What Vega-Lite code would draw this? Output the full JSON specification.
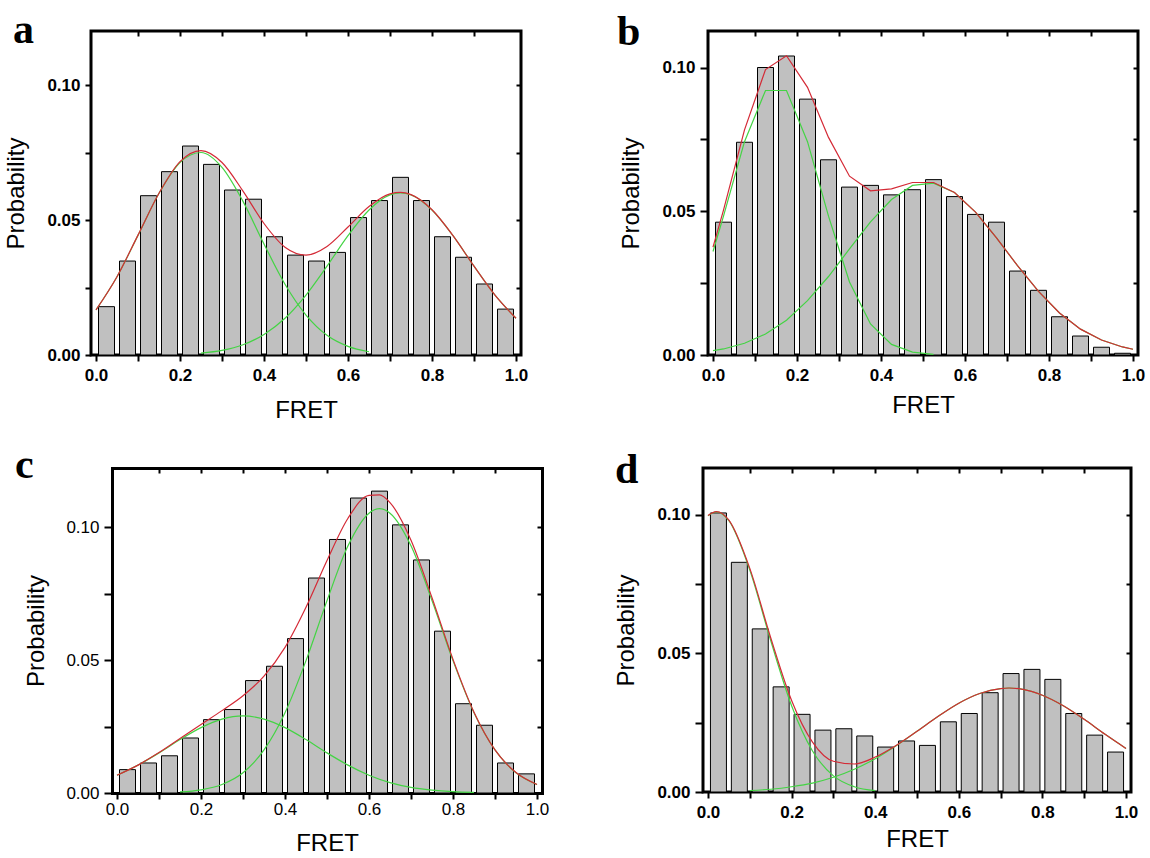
{
  "$schema": "https://vega.github.io/schema/vega-lite/v6.json",
  "background": "white",
  "padding": {"left": 3, "top": 7, "right": 0, "bottom": 0},
  "datasets": {
    "hist": [
      {"panel":"a","x":0.025,"p":0.0179},{"panel":"a","x":0.075,"p":0.0348},{"panel":"a","x":0.125,"p":0.059},{"panel":"a","x":0.175,"p":0.0679},{"panel":"a","x":0.225,"p":0.0774},
      {"panel":"a","x":0.275,"p":0.0706},{"panel":"a","x":0.325,"p":0.0611},{"panel":"a","x":0.375,"p":0.0577},{"panel":"a","x":0.425,"p":0.0438},{"panel":"a","x":0.475,"p":0.037},
      {"panel":"a","x":0.525,"p":0.0348},{"panel":"a","x":0.575,"p":0.038},{"panel":"a","x":0.625,"p":0.0509},{"panel":"a","x":0.675,"p":0.0572},{"panel":"a","x":0.725,"p":0.0658},
      {"panel":"a","x":0.775,"p":0.0572},{"panel":"a","x":0.825,"p":0.0438},{"panel":"a","x":0.875,"p":0.0362},{"panel":"a","x":0.925,"p":0.0263},{"panel":"a","x":0.975,"p":0.017},
      {"panel":"b","x":0.025,"p":0.0462},{"panel":"b","x":0.075,"p":0.074},{"panel":"b","x":0.125,"p":0.1},{"panel":"b","x":0.175,"p":0.104},{"panel":"b","x":0.225,"p":0.089},
      {"panel":"b","x":0.275,"p":0.0679},{"panel":"b","x":0.325,"p":0.0584},{"panel":"b","x":0.375,"p":0.059},{"panel":"b","x":0.425,"p":0.0557},{"panel":"b","x":0.475,"p":0.0575},
      {"panel":"b","x":0.525,"p":0.061},{"panel":"b","x":0.575,"p":0.0551},{"panel":"b","x":0.625,"p":0.0489},{"panel":"b","x":0.675,"p":0.0462},{"panel":"b","x":0.725,"p":0.0292},
      {"panel":"b","x":0.775,"p":0.0225},{"panel":"b","x":0.825,"p":0.0133},{"panel":"b","x":0.875,"p":0.0066},{"panel":"b","x":0.925,"p":0.0027},{"panel":"b","x":0.975,"p":0.0006},
      {"panel":"c","x":0.025,"p":0.0088},{"panel":"c","x":0.075,"p":0.0113},{"panel":"c","x":0.125,"p":0.014},{"panel":"c","x":0.175,"p":0.0207},{"panel":"c","x":0.225,"p":0.0276},
      {"panel":"c","x":0.275,"p":0.0314},{"panel":"c","x":0.325,"p":0.0423},{"panel":"c","x":0.375,"p":0.0477},{"panel":"c","x":0.425,"p":0.0581},{"panel":"c","x":0.475,"p":0.0809},
      {"panel":"c","x":0.525,"p":0.0954},{"panel":"c","x":0.575,"p":0.111},{"panel":"c","x":0.625,"p":0.1136},{"panel":"c","x":0.675,"p":0.1009},{"panel":"c","x":0.725,"p":0.0877},
      {"panel":"c","x":0.775,"p":0.0609},{"panel":"c","x":0.825,"p":0.0336},{"panel":"c","x":0.875,"p":0.0255},{"panel":"c","x":0.925,"p":0.0113},{"panel":"c","x":0.975,"p":0.0072},
      {"panel":"d","x":0.025,"p":0.1006},{"panel":"d","x":0.075,"p":0.0828},{"panel":"d","x":0.125,"p":0.0588},{"panel":"d","x":0.175,"p":0.0379},{"panel":"d","x":0.225,"p":0.028},
      {"panel":"d","x":0.275,"p":0.0223},{"panel":"d","x":0.325,"p":0.0228},{"panel":"d","x":0.375,"p":0.0202},{"panel":"d","x":0.425,"p":0.0162},{"panel":"d","x":0.475,"p":0.0184},
      {"panel":"d","x":0.525,"p":0.0168},{"panel":"d","x":0.575,"p":0.0253},{"panel":"d","x":0.625,"p":0.0283},{"panel":"d","x":0.675,"p":0.0358},{"panel":"d","x":0.725,"p":0.0427},
      {"panel":"d","x":0.775,"p":0.0442},{"panel":"d","x":0.825,"p":0.0406},{"panel":"d","x":0.875,"p":0.0283},{"panel":"d","x":0.925,"p":0.0205},{"panel":"d","x":0.975,"p":0.0144}
    ],
    "fit": [
      {"panel":"a","curve":"g1","x":0,"y":0.0167},{"panel":"a","curve":"g1","x":0.05,"y":0.029},{"panel":"a","curve":"g1","x":0.1,"y":0.0443},{"panel":"a","curve":"g1","x":0.15,"y":0.0599},{"panel":"a","curve":"g1","x":0.2,"y":0.0713},{"panel":"a","curve":"g1","x":0.25,"y":0.075},{"panel":"a","curve":"g1","x":0.3,"y":0.0695},{"panel":"a","curve":"g1","x":0.35,"y":0.0569},{"panel":"a","curve":"g1","x":0.4,"y":0.0411},{"panel":"a","curve":"g1","x":0.45,"y":0.0262},{"panel":"a","curve":"g1","x":0.5,"y":0.0148},{"panel":"a","curve":"g1","x":0.55,"y":0.0073},{"panel":"a","curve":"g1","x":0.6,"y":0.0032},{"panel":"a","curve":"g1","x":0.65,"y":0.0012},
      {"panel":"a","curve":"g2","x":0.25,"y":0.0007},{"panel":"a","curve":"g2","x":0.3,"y":0.0017},{"panel":"a","curve":"g2","x":0.35,"y":0.0038},{"panel":"a","curve":"g2","x":0.4,"y":0.0076},{"panel":"a","curve":"g2","x":0.45,"y":0.0136},{"panel":"a","curve":"g2","x":0.5,"y":0.0222},{"panel":"a","curve":"g2","x":0.55,"y":0.0329},{"panel":"a","curve":"g2","x":0.6,"y":0.0442},{"panel":"a","curve":"g2","x":0.65,"y":0.0537},{"panel":"a","curve":"g2","x":0.7,"y":0.0593},{"panel":"a","curve":"g2","x":0.725,"y":0.06},{"panel":"a","curve":"g2","x":0.75,"y":0.0593},{"panel":"a","curve":"g2","x":0.8,"y":0.0537},{"panel":"a","curve":"g2","x":0.85,"y":0.0442},{"panel":"a","curve":"g2","x":0.9,"y":0.0329},{"panel":"a","curve":"g2","x":0.95,"y":0.0222},{"panel":"a","curve":"g2","x":1,"y":0.0136},
      {"panel":"a","curve":"fit","x":0,"y":0.0167},{"panel":"a","curve":"fit","x":0.05,"y":0.029},{"panel":"a","curve":"fit","x":0.1,"y":0.0444},{"panel":"a","curve":"fit","x":0.15,"y":0.0599},{"panel":"a","curve":"fit","x":0.2,"y":0.0716},{"panel":"a","curve":"fit","x":0.25,"y":0.0757},{"panel":"a","curve":"fit","x":0.3,"y":0.0713},{"panel":"a","curve":"fit","x":0.35,"y":0.0607},{"panel":"a","curve":"fit","x":0.4,"y":0.0487},{"panel":"a","curve":"fit","x":0.45,"y":0.0399},{"panel":"a","curve":"fit","x":0.5,"y":0.037},{"panel":"a","curve":"fit","x":0.55,"y":0.0402},{"panel":"a","curve":"fit","x":0.6,"y":0.0474},{"panel":"a","curve":"fit","x":0.65,"y":0.055},{"panel":"a","curve":"fit","x":0.7,"y":0.0597},{"panel":"a","curve":"fit","x":0.725,"y":0.0602},{"panel":"a","curve":"fit","x":0.75,"y":0.0594},{"panel":"a","curve":"fit","x":0.8,"y":0.0538},{"panel":"a","curve":"fit","x":0.85,"y":0.0442},{"panel":"a","curve":"fit","x":0.9,"y":0.0329},{"panel":"a","curve":"fit","x":0.95,"y":0.0222},{"panel":"a","curve":"fit","x":1,"y":0.0136},
      {"panel":"b","curve":"g1","x":0,"y":0.036},{"panel":"b","curve":"g1","x":0.025,"y":0.0483},{"panel":"b","curve":"g1","x":0.075,"y":0.0742},{"panel":"b","curve":"g1","x":0.125,"y":0.092},{"panel":"b","curve":"g1","x":0.175,"y":0.092},{"panel":"b","curve":"g1","x":0.225,"y":0.0742},{"panel":"b","curve":"g1","x":0.275,"y":0.0483},{"panel":"b","curve":"g1","x":0.325,"y":0.0254},{"panel":"b","curve":"g1","x":0.375,"y":0.0108},{"panel":"b","curve":"g1","x":0.425,"y":0.0037},{"panel":"b","curve":"g1","x":0.475,"y":0.001},{"panel":"b","curve":"g1","x":0.525,"y":0.0002},
      {"panel":"b","curve":"g2","x":0,"y":0.0015},{"panel":"b","curve":"g2","x":0.025,"y":0.0021},{"panel":"b","curve":"g2","x":0.075,"y":0.0041},{"panel":"b","curve":"g2","x":0.125,"y":0.0073},{"panel":"b","curve":"g2","x":0.175,"y":0.0121},{"panel":"b","curve":"g2","x":0.225,"y":0.0189},{"panel":"b","curve":"g2","x":0.275,"y":0.0273},{"panel":"b","curve":"g2","x":0.325,"y":0.0369},{"panel":"b","curve":"g2","x":0.375,"y":0.0463},{"panel":"b","curve":"g2","x":0.425,"y":0.0541},{"panel":"b","curve":"g2","x":0.475,"y":0.059},{"panel":"b","curve":"g2","x":0.525,"y":0.0598},{"panel":"b","curve":"g2","x":0.575,"y":0.0565},{"panel":"b","curve":"g2","x":0.625,"y":0.0497},{"panel":"b","curve":"g2","x":0.675,"y":0.0407},{"panel":"b","curve":"g2","x":0.725,"y":0.0311},{"panel":"b","curve":"g2","x":0.775,"y":0.0221},{"panel":"b","curve":"g2","x":0.825,"y":0.0146},{"panel":"b","curve":"g2","x":0.875,"y":0.009},{"panel":"b","curve":"g2","x":0.925,"y":0.0052},{"panel":"b","curve":"g2","x":0.975,"y":0.0028},{"panel":"b","curve":"g2","x":1,"y":0.002},
      {"panel":"b","curve":"fit","x":0,"y":0.0375},{"panel":"b","curve":"fit","x":0.025,"y":0.0504},{"panel":"b","curve":"fit","x":0.075,"y":0.0783},{"panel":"b","curve":"fit","x":0.125,"y":0.0993},{"panel":"b","curve":"fit","x":0.175,"y":0.1041},{"panel":"b","curve":"fit","x":0.225,"y":0.0931},{"panel":"b","curve":"fit","x":0.275,"y":0.0757},{"panel":"b","curve":"fit","x":0.325,"y":0.0622},{"panel":"b","curve":"fit","x":0.375,"y":0.0571},{"panel":"b","curve":"fit","x":0.425,"y":0.0578},{"panel":"b","curve":"fit","x":0.475,"y":0.06},{"panel":"b","curve":"fit","x":0.525,"y":0.06},{"panel":"b","curve":"fit","x":0.575,"y":0.0565},{"panel":"b","curve":"fit","x":0.625,"y":0.0497},{"panel":"b","curve":"fit","x":0.675,"y":0.0407},{"panel":"b","curve":"fit","x":0.725,"y":0.0311},{"panel":"b","curve":"fit","x":0.775,"y":0.0221},{"panel":"b","curve":"fit","x":0.825,"y":0.0146},{"panel":"b","curve":"fit","x":0.875,"y":0.009},{"panel":"b","curve":"fit","x":0.925,"y":0.0052},{"panel":"b","curve":"fit","x":0.975,"y":0.0028},{"panel":"b","curve":"fit","x":1,"y":0.002},
      {"panel":"c","curve":"g1","x":0,"y":0.0067},{"panel":"c","curve":"g1","x":0.05,"y":0.0105},{"panel":"c","curve":"g1","x":0.1,"y":0.0151},{"panel":"c","curve":"g1","x":0.15,"y":0.0201},{"panel":"c","curve":"g1","x":0.2,"y":0.0246},{"panel":"c","curve":"g1","x":0.25,"y":0.0278},{"panel":"c","curve":"g1","x":0.3,"y":0.029},{"panel":"c","curve":"g1","x":0.35,"y":0.0278},{"panel":"c","curve":"g1","x":0.4,"y":0.0246},{"panel":"c","curve":"g1","x":0.45,"y":0.0201},{"panel":"c","curve":"g1","x":0.5,"y":0.0151},{"panel":"c","curve":"g1","x":0.55,"y":0.0105},{"panel":"c","curve":"g1","x":0.6,"y":0.0067},{"panel":"c","curve":"g1","x":0.65,"y":0.0039},{"panel":"c","curve":"g1","x":0.7,"y":0.0021},{"panel":"c","curve":"g1","x":0.75,"y":0.0011},{"panel":"c","curve":"g1","x":0.8,"y":0.0005},{"panel":"c","curve":"g1","x":0.85,"y":0.0002},
      {"panel":"c","curve":"g2","x":0.15,"y":0.0004},{"panel":"c","curve":"g2","x":0.2,"y":0.0012},{"panel":"c","curve":"g2","x":0.25,"y":0.0032},{"panel":"c","curve":"g2","x":0.3,"y":0.0076},{"panel":"c","curve":"g2","x":0.35,"y":0.0162},{"panel":"c","curve":"g2","x":0.4,"y":0.0302},{"panel":"c","curve":"g2","x":0.45,"y":0.0498},{"panel":"c","curve":"g2","x":0.5,"y":0.0724},{"panel":"c","curve":"g2","x":0.55,"y":0.093},{"panel":"c","curve":"g2","x":0.6,"y":0.1053},{"panel":"c","curve":"g2","x":0.625,"y":0.107},{"panel":"c","curve":"g2","x":0.65,"y":0.1053},{"panel":"c","curve":"g2","x":0.7,"y":0.093},{"panel":"c","curve":"g2","x":0.75,"y":0.0724},{"panel":"c","curve":"g2","x":0.8,"y":0.0498},{"panel":"c","curve":"g2","x":0.85,"y":0.0302},{"panel":"c","curve":"g2","x":0.9,"y":0.0162},{"panel":"c","curve":"g2","x":0.95,"y":0.0076},{"panel":"c","curve":"g2","x":1,"y":0.0032},
      {"panel":"c","curve":"fit","x":0,"y":0.0067},{"panel":"c","curve":"fit","x":0.05,"y":0.0105},{"panel":"c","curve":"fit","x":0.1,"y":0.0152},{"panel":"c","curve":"fit","x":0.15,"y":0.0205},{"panel":"c","curve":"fit","x":0.2,"y":0.0258},{"panel":"c","curve":"fit","x":0.25,"y":0.031},{"panel":"c","curve":"fit","x":0.3,"y":0.0366},{"panel":"c","curve":"fit","x":0.35,"y":0.044},{"panel":"c","curve":"fit","x":0.4,"y":0.0548},{"panel":"c","curve":"fit","x":0.45,"y":0.0699},{"panel":"c","curve":"fit","x":0.5,"y":0.0875},{"panel":"c","curve":"fit","x":0.55,"y":0.1034},{"panel":"c","curve":"fit","x":0.6,"y":0.112},{"panel":"c","curve":"fit","x":0.625,"y":0.1122},{"panel":"c","curve":"fit","x":0.65,"y":0.1093},{"panel":"c","curve":"fit","x":0.7,"y":0.0951},{"panel":"c","curve":"fit","x":0.75,"y":0.0735},{"panel":"c","curve":"fit","x":0.8,"y":0.0503},{"panel":"c","curve":"fit","x":0.85,"y":0.0304},{"panel":"c","curve":"fit","x":0.9,"y":0.0162},{"panel":"c","curve":"fit","x":0.95,"y":0.0077},{"panel":"c","curve":"fit","x":1,"y":0.0032},
      {"panel":"d","curve":"g1","x":0,"y":0.0996},{"panel":"d","curve":"g1","x":0.02,"y":0.101},{"panel":"d","curve":"g1","x":0.05,"y":0.0978},{"panel":"d","curve":"g1","x":0.1,"y":0.08},{"panel":"d","curve":"g1","x":0.15,"y":0.0546},{"panel":"d","curve":"g1","x":0.2,"y":0.0311},{"panel":"d","curve":"g1","x":0.25,"y":0.0148},{"panel":"d","curve":"g1","x":0.3,"y":0.0058},{"panel":"d","curve":"g1","x":0.35,"y":0.0019},{"panel":"d","curve":"g1","x":0.4,"y":0.0005},
      {"panel":"d","curve":"g2","x":0.1,"y":0.0005},{"panel":"d","curve":"g2","x":0.15,"y":0.001},{"panel":"d","curve":"g2","x":0.2,"y":0.0019},{"panel":"d","curve":"g2","x":0.25,"y":0.0032},{"panel":"d","curve":"g2","x":0.3,"y":0.0053},{"panel":"d","curve":"g2","x":0.35,"y":0.0082},{"panel":"d","curve":"g2","x":0.4,"y":0.012},{"panel":"d","curve":"g2","x":0.45,"y":0.0167},{"panel":"d","curve":"g2","x":0.5,"y":0.0219},{"panel":"d","curve":"g2","x":0.55,"y":0.0272},{"panel":"d","curve":"g2","x":0.6,"y":0.032},{"panel":"d","curve":"g2","x":0.65,"y":0.0355},{"panel":"d","curve":"g2","x":0.7,"y":0.0373},{"panel":"d","curve":"g2","x":0.72,"y":0.0375},{"panel":"d","curve":"g2","x":0.75,"y":0.0371},{"panel":"d","curve":"g2","x":0.8,"y":0.0349},{"panel":"d","curve":"g2","x":0.85,"y":0.0311},{"panel":"d","curve":"g2","x":0.9,"y":0.0262},{"panel":"d","curve":"g2","x":0.95,"y":0.0208},{"panel":"d","curve":"g2","x":1,"y":0.0157},
      {"panel":"d","curve":"fit","x":0,"y":0.0997},{"panel":"d","curve":"fit","x":0.02,"y":0.1011},{"panel":"d","curve":"fit","x":0.05,"y":0.098},{"panel":"d","curve":"fit","x":0.1,"y":0.0806},{"panel":"d","curve":"fit","x":0.15,"y":0.0556},{"panel":"d","curve":"fit","x":0.2,"y":0.033},{"panel":"d","curve":"fit","x":0.25,"y":0.018},{"panel":"d","curve":"fit","x":0.3,"y":0.0111},{"panel":"d","curve":"fit","x":0.35,"y":0.0101},{"panel":"d","curve":"fit","x":0.4,"y":0.0126},{"panel":"d","curve":"fit","x":0.45,"y":0.0168},{"panel":"d","curve":"fit","x":0.5,"y":0.0219},{"panel":"d","curve":"fit","x":0.55,"y":0.0272},{"panel":"d","curve":"fit","x":0.6,"y":0.032},{"panel":"d","curve":"fit","x":0.65,"y":0.0355},{"panel":"d","curve":"fit","x":0.7,"y":0.0373},{"panel":"d","curve":"fit","x":0.72,"y":0.0375},{"panel":"d","curve":"fit","x":0.75,"y":0.0371},{"panel":"d","curve":"fit","x":0.8,"y":0.0349},{"panel":"d","curve":"fit","x":0.85,"y":0.0311},{"panel":"d","curve":"fit","x":0.9,"y":0.0262},{"panel":"d","curve":"fit","x":0.95,"y":0.0208},{"panel":"d","curve":"fit","x":1,"y":0.0157}
    ]
  },
  "columns": 1,
  "spacing": 20,
  "concat": [
    {
      "spacing": 85,
      "hconcat": [
        {
          "width": 430, "height": 324,
          "title": {"text": "a", "dx": 8, "dy": 26},
          "layer": [
            {"data": {"name": "hist"}, "transform": [{"filter": "datum.panel == 'a'"}],
             "mark": {"type": "bar", "width": 16, "fill": "#c0c0c0", "stroke": "black", "strokeWidth": 1},
             "encoding": {
               "x": {"field": "x", "type": "quantitative", "scale": {"domain": [0, 1], "nice": false},
                     "axis": {"orient": "bottom", "values": [0,0.1,0.2,0.3,0.4,0.5,0.6,0.7,0.8,0.9,1], "labelExpr": "round(datum.value*10) % 2 == 0 ? format(datum.value, '.1f') : ''", "tickSize": 6, "labelPadding": 6, "title": "FRET", "titlePadding": 15}},
               "y": {"field": "p", "type": "quantitative", "scale": {"domain": [0, 0.12], "nice": false},
                     "axis": {"orient": "left", "values": [0,0.025,0.05,0.075,0.1], "labelExpr": "round(datum.value*1000) % 50 == 0 ? format(datum.value, '.2f') : ''", "tickSize": 6, "labelPadding": 5, "title": "Probability", "titlePadding": 18}}}},
            {"data": {"name": "fit"}, "transform": [{"filter": "datum.panel == 'a' && datum.curve != 'fit'"}],
             "mark": {"type": "line", "color": "#44d444", "strokeWidth": 1.2, "interpolate": "monotone"},
             "encoding": {
               "x": {"field": "x", "type": "quantitative", "axis": {"orient": "top", "values": [0.1,0.2,0.3,0.4,0.5,0.6,0.7,0.8,0.9], "labels": false, "tickSize": -5, "title": null}},
               "y": {"field": "y", "type": "quantitative", "axis": {"orient": "right", "values": [0.025,0.05,0.075,0.1], "labels": false, "tickSize": -5, "title": null}},
               "detail": {"field": "curve"}}},
            {"data": {"name": "fit"}, "transform": [{"filter": "datum.panel == 'a' && datum.curve == 'fit'"}],
             "mark": {"type": "line", "color": "#d42a36", "strokeWidth": 1.2, "interpolate": "monotone"},
             "encoding": {
               "x": {"field": "x", "type": "quantitative", "axis": null},
               "y": {"field": "y", "type": "quantitative", "axis": null}}}
          ]
        },
        {
          "width": 430, "height": 324,
          "title": {"text": "b", "dx": -3, "dy": 28},
          "layer": [
            {"data": {"name": "hist"}, "transform": [{"filter": "datum.panel == 'b'"}],
             "mark": {"type": "bar", "width": 16, "fill": "#c0c0c0", "stroke": "black", "strokeWidth": 1},
             "encoding": {
               "x": {"field": "x", "type": "quantitative", "scale": {"domain": [0, 1], "nice": false},
                     "axis": {"orient": "bottom", "values": [0,0.1,0.2,0.3,0.4,0.5,0.6,0.7,0.8,0.9,1], "labelExpr": "round(datum.value*10) % 2 == 0 ? format(datum.value, '.1f') : ''", "tickSize": 6, "labelPadding": 6, "title": "FRET", "titlePadding": 10}},
               "y": {"field": "p", "type": "quantitative", "scale": {"domain": [0, 0.1127], "nice": false},
                     "axis": {"orient": "left", "values": [0,0.025,0.05,0.075,0.1], "labelExpr": "round(datum.value*1000) % 50 == 0 ? format(datum.value, '.2f') : ''", "tickSize": 8, "labelPadding": 5, "title": "Probability", "titlePadding": 18}}}},
            {"data": {"name": "fit"}, "transform": [{"filter": "datum.panel == 'b' && datum.curve != 'fit'"}],
             "mark": {"type": "line", "color": "#44d444", "strokeWidth": 1.2, "interpolate": "linear"},
             "encoding": {
               "x": {"field": "x", "type": "quantitative", "axis": {"orient": "top", "values": [0.1,0.2,0.3,0.4,0.5,0.6,0.7,0.8,0.9], "labels": false, "tickSize": -5, "title": null}},
               "y": {"field": "y", "type": "quantitative", "axis": {"orient": "right", "values": [0.025,0.05,0.075,0.1], "labels": false, "tickSize": -5, "title": null}},
               "detail": {"field": "curve"}}},
            {"data": {"name": "fit"}, "transform": [{"filter": "datum.panel == 'b' && datum.curve == 'fit'"}],
             "mark": {"type": "line", "color": "#d42a36", "strokeWidth": 1.2, "interpolate": "linear"},
             "encoding": {
               "x": {"field": "x", "type": "quantitative", "axis": null},
               "y": {"field": "y", "type": "quantitative", "axis": null}}}
          ]
        }
      ]
    },
    {
      "spacing": 64,
      "hconcat": [
        {
          "width": 451, "height": 325,
          "view": {"stroke": null},
          "title": {"text": "c", "dx": -10, "dy": 24},
          "layer": [
            {"data": {"name": "hist"}, "transform": [{"filter": "datum.panel == 'c'"}],
             "mark": {"type": "bar", "width": 16, "fill": "#c0c0c0", "stroke": "black", "strokeWidth": 1},
             "encoding": {
               "x": {"field": "x", "type": "quantitative", "scale": {"domain": [0, 1], "nice": false, "range": [21, 451]},
                     "axis": {"orient": "bottom", "values": [0,0.1,0.2,0.3,0.4,0.5,0.6,0.7,0.8,0.9,1], "labelExpr": "round(datum.value*10) % 2 == 0 ? format(datum.value, '.1f') : ''", "tickSize": 6, "labelPadding": 2, "labelFontWeight": "normal", "title": "FRET", "titlePadding": 14, "domain": true, "domainWidth": 3, "domainColor": "black", "domainCap": "square"}},
               "y": {"field": "p", "type": "quantitative", "scale": {"domain": [0, 0.1223], "nice": false},
                     "axis": {"orient": "left", "offset": -21, "values": [0,0.025,0.05,0.075,0.1], "labelExpr": "round(datum.value*1000) % 50 == 0 ? format(datum.value, '.2f') : ''", "tickSize": 8, "labelPadding": 5, "labelFontWeight": "normal", "title": "Probability", "titlePadding": 17, "domain": true, "domainWidth": 3, "domainColor": "black", "domainCap": "square"}}}},
            {"data": {"name": "fit"}, "transform": [{"filter": "datum.panel == 'c' && datum.curve != 'fit'"}],
             "mark": {"type": "line", "color": "#44d444", "strokeWidth": 1.2, "interpolate": "monotone"},
             "encoding": {
               "x": {"field": "x", "type": "quantitative", "axis": {"orient": "top", "values": [0.1,0.2,0.3,0.4,0.5,0.6,0.7,0.8,0.9], "labels": false, "tickSize": -5, "title": null, "domain": true, "domainWidth": 3, "domainColor": "black", "domainCap": "square"}},
               "y": {"field": "y", "type": "quantitative", "axis": {"orient": "right", "values": [0.025,0.05,0.075,0.1], "labels": false, "tickSize": -5, "title": null, "domain": true, "domainWidth": 3, "domainColor": "black", "domainCap": "square"}},
               "detail": {"field": "curve"}}},
            {"data": {"name": "fit"}, "transform": [{"filter": "datum.panel == 'c' && datum.curve == 'fit'"}],
             "mark": {"type": "line", "color": "#d42a36", "strokeWidth": 1.2, "interpolate": "monotone"},
             "encoding": {
               "x": {"field": "x", "type": "quantitative", "axis": null},
               "y": {"field": "y", "type": "quantitative", "axis": null}}}
          ]
        },
        {
          "width": 428, "height": 324,
          "title": {"text": "d", "dx": 0, "dy": 29},
          "layer": [
            {"data": {"name": "hist"}, "transform": [{"filter": "datum.panel == 'd'"}],
             "mark": {"type": "bar", "width": 16, "fill": "#c0c0c0", "stroke": "black", "strokeWidth": 1},
             "encoding": {
               "x": {"field": "x", "type": "quantitative", "scale": {"domain": [0, 1], "nice": false},
                     "axis": {"orient": "bottom", "values": [0,0.1,0.2,0.3,0.4,0.5,0.6,0.7,0.8,0.9,1], "labelExpr": "round(datum.value*10) % 2 == 0 ? format(datum.value, '.1f') : ''", "tickSize": 6, "labelPadding": 6, "title": "FRET", "titlePadding": 7}},
               "y": {"field": "p", "type": "quantitative", "scale": {"domain": [0, 0.1168], "nice": false},
                     "axis": {"orient": "left", "values": [0,0.025,0.05,0.075,0.1], "labelExpr": "round(datum.value*1000) % 50 == 0 ? format(datum.value, '.2f') : ''", "tickSize": 8, "labelPadding": 5, "title": "Probability", "titlePadding": 18}}}},
            {"data": {"name": "fit"}, "transform": [{"filter": "datum.panel == 'd' && datum.curve != 'fit'"}],
             "mark": {"type": "line", "color": "#44d444", "strokeWidth": 1.2, "interpolate": "monotone"},
             "encoding": {
               "x": {"field": "x", "type": "quantitative", "axis": {"orient": "top", "values": [0.1,0.2,0.3,0.4,0.5,0.6,0.7,0.8,0.9], "labels": false, "tickSize": -5, "title": null}},
               "y": {"field": "y", "type": "quantitative", "axis": {"orient": "right", "values": [0.025,0.05,0.075,0.1], "labels": false, "tickSize": -5, "title": null}},
               "detail": {"field": "curve"}}},
            {"data": {"name": "fit"}, "transform": [{"filter": "datum.panel == 'd' && datum.curve == 'fit'"}],
             "mark": {"type": "line", "color": "#d42a36", "strokeWidth": 1.2, "interpolate": "monotone"},
             "encoding": {
               "x": {"field": "x", "type": "quantitative", "axis": null},
               "y": {"field": "y", "type": "quantitative", "axis": null}}}
          ]
        }
      ]
    }
  ],
  "config": {
    "view": {"stroke": "black", "strokeWidth": 3},
    "axis": {"domain": false, "grid": false, "tickColor": "black", "tickWidth": 2, "labelFont": "Liberation Sans", "labelFontSize": 17, "labelFontWeight": "bold", "labelColor": "black", "titleFont": "Liberation Sans", "titleFontSize": 24, "titleFontWeight": "normal", "titleColor": "black", "labelFlush": false, "labelOverlap": false},
    "title": {"anchor": "start", "frame": "bounds", "orient": "top", "baseline": "alphabetic", "offset": 0, "font": "Liberation Serif", "fontSize": 42, "fontWeight": "bold", "color": "black"}
  }
}
